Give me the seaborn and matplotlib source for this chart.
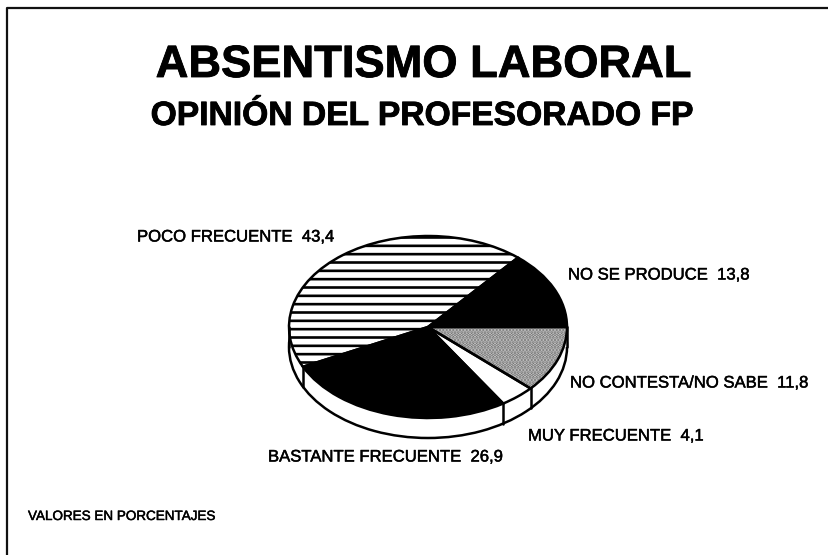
import numpy as np
import matplotlib
matplotlib.use("Agg")
import matplotlib.pyplot as plt
import matplotlib.patheffects as pe
import seaborn as sns

categories = ["NO SE PRODUCE", "POCO FRECUENTE", "BASTANTE FRECUENTE", "MUY FRECUENTE", "NO CONTESTA/NO SABE"]
values = [13.8, 43.4, 26.9, 4.1, 11.8]
value_labels = ["13,8", "43,4", "26,9", "4,1", "11,8"]
face_colors = ["black", "white", "black", "white", "#d4d4d4"]
hatch_colors = ["black", "black", "black", "black", "#707070"]
hatches = [None, "--", None, None, "....."]
title = "ABSENTISMO LABORAL"
subtitle = "OPINIÓN DEL PROFESORADO FP"
footnote = "VALORES EN PORCENTAJES"

sns.set_theme(style="white")
plt.rcParams["font.family"] = ["Liberation Sans", "DejaVu Sans"]
plt.rcParams["hatch.linewidth"] = 1.9

W, H = 829, 555
fig = plt.figure(figsize=(W / 100, H / 100), dpi=100, facecolor="white")

# page overlay in pixel coordinates
page = fig.add_axes([0, 0, 1, 1])
page.set_xlim(0, W)
page.set_ylim(H, 0)
page.axis("off")
page.plot([829, 7, 7], [8, 8, 555], color="#111111", lw=1.6, solid_capstyle="butt")

heavy = [pe.withStroke(linewidth=0.6, foreground="black")]
soft = [pe.withStroke(linewidth=0.35, foreground="black")]
page.text(423, 77, title, ha="center", va="baseline", fontsize=32.6, fontweight="bold",
          color="black", path_effects=heavy)
page.text(422, 125, subtitle, ha="center", va="baseline", fontsize=24.2, fontweight="bold",
          color="black", path_effects=heavy)

label_pos = {
    "POCO FRECUENTE": (137, 237),
    "NO SE PRODUCE": (568, 275),
    "NO CONTESTA/NO SABE": (570, 383),
    "MUY FRECUENTE": (528, 436),
    "BASTANTE FRECUENTE": (268, 457),
}
for c, v in zip(categories, value_labels):
    x, y = label_pos[c]
    page.text(x, y, f"{c}  {v}", fontsize=12, color="black", va="center", ha="left", path_effects=soft)
page.text(28, 517, footnote, fontsize=9.7, color="black", va="center", ha="left", path_effects=soft)

# pie: unit circle is stretched to the ellipse of the scanned 3D pie
cx, cy, rx, ry, depth = 428, 327, 139, 91, 20
d = depth / ry
m = 1.1
ax = fig.add_axes([
    (cx - m * rx) / W,
    1 - (cy + (m + d) * ry) / H,
    2 * m * rx / W,
    (2 * m + d) * ry / H,
])
ax.patch.set_alpha(0)
lw = 1.8

# base of the cylinder
ax.pie([1], radius=1, center=(0, -d), colors=["white"],
       wedgeprops=dict(edgecolor="black", linewidth=lw))
ax.fill_between([-1, 1], [-d, -d], [0, 0], color="white", lw=0)
ax.plot([-1, -1], [0, -d], color="black", lw=lw)
ax.plot([1, 1], [0, -d], color="black", lw=lw)

# side separators where slice borders meet the front rim
edges = np.cumsum(values) / np.sum(values) * 2 * np.pi
for e in edges:
    if np.sin(e) < -0.05:
        ax.plot([np.cos(e)] * 2, [np.sin(e), np.sin(e) - d], color="black", lw=lw)

# top face: fills with hatches, then black outlines over them
wedges, _ = ax.pie(values, radius=1, startangle=0, counterclock=True, colors=face_colors,
                   wedgeprops=dict(linewidth=0))
for w, h, hc in zip(wedges, hatches, hatch_colors):
    if h:
        w.set_hatch(h)
        w.set_edgecolor(hc)
ax.pie(values, radius=1, startangle=0, counterclock=True, colors=["none"] * len(values),
       wedgeprops=dict(edgecolor="black", linewidth=lw))

ax.set_aspect("auto")
ax.set_xlim(-m, m)
ax.set_ylim(-m - d, m)
ax.axis("off")

fig.savefig("out.png", dpi=100, facecolor="white")
